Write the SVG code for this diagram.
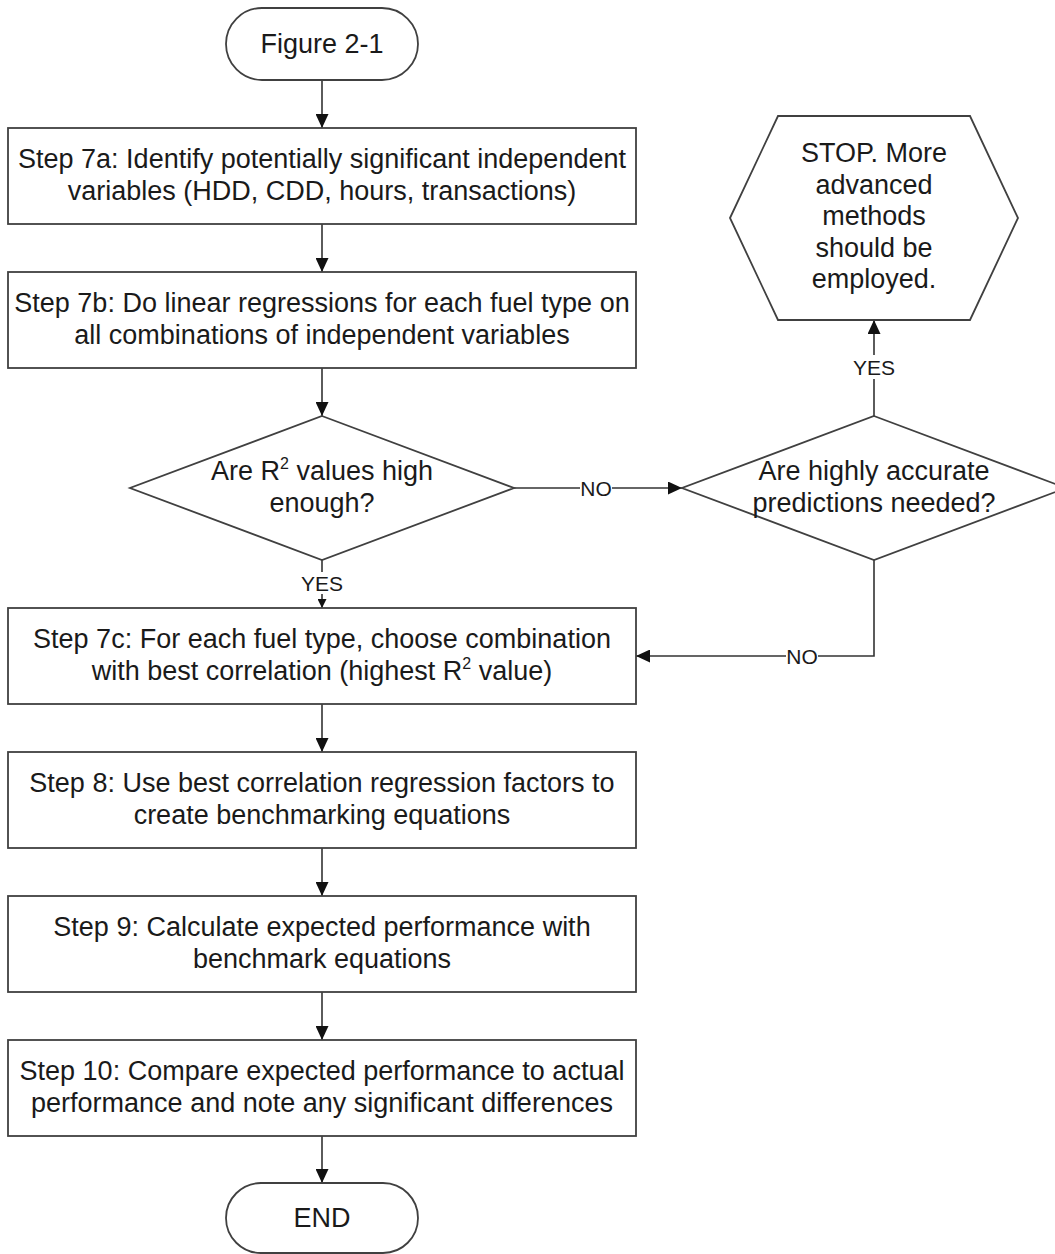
<svg xmlns="http://www.w3.org/2000/svg" width="1055" height="1254" viewBox="0 0 1055 1254">
<style>
.shape{fill:#ffffff;stroke:#404040;stroke-width:1.8}
.t{font-family:"Liberation Sans",Arial,sans-serif;font-size:27px;fill:#1a1a1a;text-anchor:middle}
.lbl{font-family:"Liberation Sans",Arial,sans-serif;font-size:21px;fill:#1a1a1a;text-anchor:middle}
.conn{fill:none;stroke:#333333;stroke-width:1.6}
.bg{fill:#ffffff;stroke:none}
</style>
<defs>
<marker id="arr" markerUnits="userSpaceOnUse" markerWidth="14" markerHeight="13" refX="14" refY="6.5" orient="auto">
<path d="M0,0 L14,6.5 L0,13 z" fill="#111111"/>
</marker>
<marker id="arrs" markerUnits="userSpaceOnUse" markerWidth="9" markerHeight="9" refX="9" refY="4.5" orient="auto">
<path d="M0,0 L9,4.5 L0,9 z" fill="#111111"/>
</marker>
</defs>
<rect width="1055" height="1254" fill="#ffffff"/>

<g id="connectors">
<path class="conn" d="M322,80 L322,128" marker-end="url(#arr)"/>
<path class="conn" d="M322,224 L322,272" marker-end="url(#arr)"/>
<path class="conn" d="M322,368 L322,416" marker-end="url(#arr)"/>
<path class="conn" d="M322,560 L322,608" marker-end="url(#arrs)"/>
<rect class="bg" x="302" y="572" width="40" height="22"/>
<text class="lbl" x="322" y="591">YES</text>
<path class="conn" d="M514,488 L682,488" marker-end="url(#arr)"/>
<rect class="bg" x="580" y="477" width="32" height="22"/>
<text class="lbl" x="596" y="496">NO</text>
<path class="conn" d="M874,416 L874,320" marker-end="url(#arr)"/>
<rect class="bg" x="852" y="355" width="44" height="24"/>
<text class="lbl" x="874" y="375">YES</text>
<path class="conn" d="M874,560 L874,656 L636,656" marker-end="url(#arr)"/>
<rect class="bg" x="786" y="645" width="32" height="22"/>
<text class="lbl" x="802" y="664">NO</text>
<path class="conn" d="M322,704 L322,752" marker-end="url(#arr)"/>
<path class="conn" d="M322,848 L322,896" marker-end="url(#arr)"/>
<path class="conn" d="M322,992 L322,1040" marker-end="url(#arr)"/>
<path class="conn" d="M322,1136 L322,1183" marker-end="url(#arr)"/>
</g>

<g id="start">
<rect class="shape" x="226" y="8" width="192" height="72" rx="36" ry="36"/>
<text class="t" x="322" y="53">Figure 2-1</text>
</g>

<g id="step7a">
<rect class="shape" x="8" y="128" width="628" height="96"/>
<text class="t" x="322" y="168">Step 7a: Identify potentially significant independent</text>
<text class="t" x="322" y="200">variables (HDD, CDD, hours, transactions)</text>
</g>

<g id="step7b">
<rect class="shape" x="8" y="272" width="628" height="96"/>
<text class="t" x="322" y="312">Step 7b: Do linear regressions for each fuel type on</text>
<text class="t" x="322" y="344">all combinations of independent variables</text>
</g>

<g id="decision1">
<polygon class="shape" points="322,416 514,488 322,560 130,488"/>
<text class="t" x="322" y="480">Are R<tspan font-size="16" dy="-11">2</tspan><tspan dy="11"> values high</tspan></text>
<text class="t" x="322" y="512">enough?</text>
</g>

<g id="decision2">
<polygon class="shape" points="874,416 1066,488 874,560 682,488"/>
<text class="t" x="874" y="480">Are highly accurate</text>
<text class="t" x="874" y="512">predictions needed?</text>
</g>

<g id="stop">
<polygon class="shape" points="730,218 778,116 970,116 1018,218 970,320 778,320"/>
<text class="t" x="874" y="162">STOP. More</text>
<text class="t" x="874" y="193.5">advanced</text>
<text class="t" x="874" y="225">methods</text>
<text class="t" x="874" y="256.5">should be</text>
<text class="t" x="874" y="288">employed.</text>
</g>

<g id="step7c">
<rect class="shape" x="8" y="608" width="628" height="96"/>
<text class="t" x="322" y="648">Step 7c: For each fuel type, choose combination</text>
<text class="t" x="322" y="680">with best correlation (highest R<tspan font-size="16" dy="-11">2</tspan><tspan dy="11"> value)</tspan></text>
</g>

<g id="step8">
<rect class="shape" x="8" y="752" width="628" height="96"/>
<text class="t" x="322" y="792">Step 8: Use best correlation regression factors to</text>
<text class="t" x="322" y="824">create benchmarking equations</text>
</g>

<g id="step9">
<rect class="shape" x="8" y="896" width="628" height="96"/>
<text class="t" x="322" y="936">Step 9: Calculate expected performance with</text>
<text class="t" x="322" y="968">benchmark equations</text>
</g>

<g id="step10">
<rect class="shape" x="8" y="1040" width="628" height="96"/>
<text class="t" x="322" y="1080">Step 10: Compare expected performance to actual</text>
<text class="t" x="322" y="1112">performance and note any significant differences</text>
</g>

<g id="end">
<rect class="shape" x="226" y="1183" width="192" height="70" rx="35" ry="35"/>
<text class="t" x="322" y="1227">END</text>
</g>
</svg>
